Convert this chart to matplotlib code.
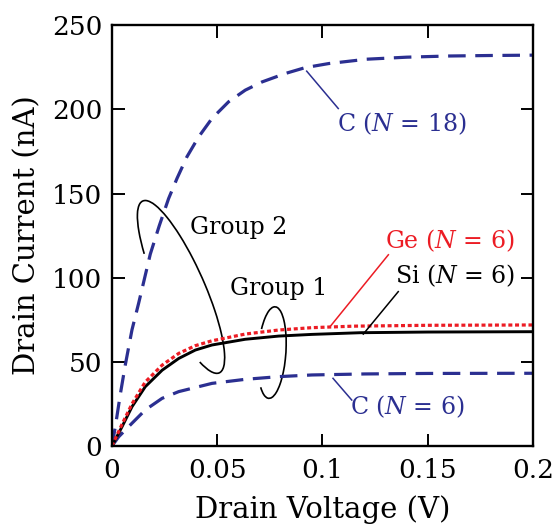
import matplotlib

matplotlib.use("Agg")
import matplotlib.pyplot as plt
from matplotlib.patches import Arc

plt.rcParams["font.family"] = ["DejaVu Serif"]
plt.rcParams["mathtext.fontset"] = "custom"
plt.rcParams["mathtext.rm"] = "DejaVu Serif"
plt.rcParams["mathtext.it"] = "DejaVu Serif:italic"

BLUE = "#2b2f91"
RED = "#ec1c24"

# curves (drain voltage in V, drain current in nA)
c18_v = [0, 0.0016, 0.004, 0.0063, 0.0095, 0.0127, 0.0182, 0.0225, 0.0269, 0.0309,
         0.0356, 0.0412, 0.0475, 0.0554, 0.0633, 0.0713, 0.0823, 0.0918, 0.1029, 0.121,
         0.140, 0.160, 0.180, 0.200]
c18_i = [0, 11.5, 31, 48, 69, 85, 114, 131, 147, 159,
         171.8, 183.7, 194.6, 204.5, 211.4, 216.3, 221.3, 224.8, 227.2, 229.8,
         231.0, 231.7, 232.0, 232.2]

si_v = [0, 0.0048, 0.0095, 0.0158, 0.0238, 0.0317, 0.0396, 0.0475, 0.0633, 0.0792,
        0.095, 0.118, 0.150, 0.200]
si_i = [0, 11.5, 23.3, 35.2, 45, 52, 57, 60, 63.4, 65.3,
        66.3, 67.3, 67.7, 67.9]

ge_v = [0, 0.0048, 0.0095, 0.0158, 0.0238, 0.0317, 0.0396, 0.0475, 0.0633, 0.0792,
        0.095, 0.115, 0.150, 0.200]
ge_i = [0, 13, 25, 38, 48, 55, 59.6, 62.5, 66.5, 68.9,
        70.3, 71.2, 71.7, 71.9]

c6_v = [0, 0.0032, 0.0095, 0.0158, 0.0238, 0.0317, 0.0475, 0.0633, 0.0792, 0.095,
        0.120, 0.150, 0.200]
c6_i = [0, 5.5, 13.5, 21.4, 28.3, 32.3, 37.2, 39.6, 41.2, 42.2,
        42.8, 43.1, 43.2]

x_ticks = [0, 0.05, 0.1, 0.15, 0.2]
x_tick_labels = ["0", "0.05", "0.1", "0.15", "0.2"]
y_ticks = [0, 50, 100, 150, 200, 250]

# labels: text, text position, leader line (from curve to label), colour
labels = [
    ("C ($N$ = 18)", (0.1376, 191.6), [(0.0925, 222.7), (0.1075, 200.5)], BLUE),
    ("C ($N$ = 6)", (0.1404, 23.3), [(0.105, 40.2), (0.1139, 27.3)], BLUE),
    ("Ge ($N$ = 6)", (0.1606, 121.8), [(0.1036, 70.9), (0.1313, 113.6)], RED),
    ("Si ($N$ = 6)", (0.163, 101.0), [(0.1194, 66.5), (0.136, 91.7)], "black"),
]
groups = [("Group 2", (0.0602, 129.8)), ("Group 1", (0.079, 93.6))]

fig = plt.figure(figsize=(5.56, 5.25), dpi=100)
ax = fig.add_axes([0.2014, 0.1505, 0.7572, 0.8015])

ax.plot(c6_v, c6_i, color=BLUE, lw=2.3, dashes=(5.5, 3.0), dash_capstyle="butt")
ax.plot(c18_v, c18_i, color=BLUE, lw=2.3, dashes=(5.5, 3.0), dash_capstyle="butt")
ax.plot(si_v, si_i, color="black", lw=2.1)
ax.plot(ge_v, ge_i, color=RED, lw=2.3, dashes=(1.25, 0.85), dash_capstyle="butt")

for text, pos, leader, color in labels:
    ax.plot([p[0] for p in leader], [p[1] for p in leader], color=color, lw=1.1)
    ax.text(pos[0], pos[1], text, color=color, fontsize=17, ha="center", va="center")

for text, pos in groups:
    ax.text(pos[0], pos[1], text, color="black", fontsize=17, ha="center", va="center")

# group rings (axes box is square, so axes fraction keeps ellipse shape)
ax.add_patch(Arc((0.164, 0.378), 0.447, 0.109, angle=114, theta1=170, theta2=24,
                 transform=ax.transAxes, color="black", lw=1.2))
ax.add_patch(Arc((0.380, 0.222), 0.218, 0.066, angle=86, theta1=166, theta2=28,
                 transform=ax.transAxes, color="black", lw=1.2))

ax.set_xlim(0, 0.2)
ax.set_ylim(0, 250)
ax.set_xticks(x_ticks)
ax.set_xticklabels(x_tick_labels)
ax.set_yticks(y_ticks)
ax.tick_params(direction="in", length=9, width=1.4, labelsize=19, top=True, right=True)
ax.tick_params(axis="x", pad=9)
ax.tick_params(axis="y", pad=7)
for spine in ax.spines.values():
    spine.set_linewidth(1.7)

ax.set_xlabel("Drain Voltage (V)", fontsize=21, labelpad=8.5)
ax.set_ylabel("Drain Current (nA)", fontsize=21, labelpad=7.5)

fig.savefig("out.png", dpi=100)
